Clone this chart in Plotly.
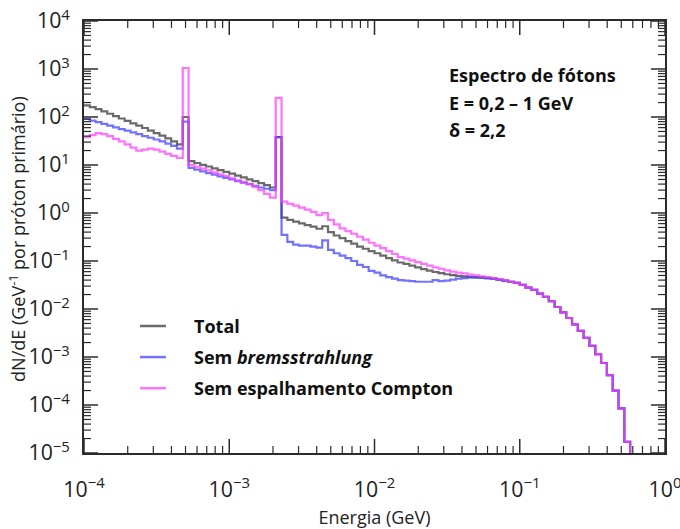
import numpy as np
import plotly.graph_objects as go

# Photon energy bins: 0.04-decade logarithmic bins from 1e-4 GeV
n_bins = 94
bin_edges = 10 ** (-4 + 0.04 * np.arange(n_bins + 1))

# dN/dE per bin (GeV^-1 per primary proton)
total = [
    175, 160, 146, 131, 117, 104, 93, 83, 74, 66, 59, 52, 46, 41, 36, 31, 27,
    100,
    12.0, 11.0, 10.1, 9.3, 8.5, 7.8, 7.2, 6.6, 6.0, 5.5, 5.0, 4.6, 4.2, 3.8, 3.4,
    38,
    0.80, 0.72, 0.66, 0.61, 0.56, 0.52, 0.47, 0.53, 0.40, 0.34,
    0.30, 0.26, 0.23, 0.20, 0.18, 0.16, 0.145, 0.13, 0.115, 0.103,
    0.093, 0.087, 0.080, 0.074, 0.068, 0.063, 0.059, 0.056, 0.053, 0.051,
    0.049, 0.048, 0.047, 0.046, 0.045, 0.044,
    0.043, 0.041, 0.039, 0.037, 0.035, 0.032, 0.028, 0.025, 0.021, 0.018,
    0.0145, 0.0110, 0.0085, 0.0065, 0.0048, 0.0035, 0.0025, 0.0017, 0.00115, 0.00075,
    0.00042, 0.00020, 0.000085, 0.000017,
]

sem_brems = [
    92, 84, 78, 72, 66, 61, 56, 52, 48, 44, 40, 37, 34, 31, 28, 25, 22,
    80,
    8.7, 8.0, 7.4, 6.8, 6.3, 5.8, 5.4, 5.0, 4.6, 4.3, 4.0, 3.7, 3.4, 3.2, 3.0,
    38,
    0.35, 0.25, 0.22, 0.21, 0.21, 0.20, 0.19, 0.27, 0.17, 0.145,
    0.13, 0.115, 0.10, 0.083, 0.075, 0.062, 0.057, 0.050, 0.046, 0.043,
    0.040, 0.039, 0.038, 0.037, 0.037, 0.037, 0.040, 0.038, 0.039, 0.041,
    0.043, 0.044, 0.045, 0.045, 0.045, 0.044,
    0.043, 0.041, 0.039, 0.037, 0.035, 0.032, 0.028, 0.025, 0.021, 0.018,
    0.0145, 0.0110, 0.0085, 0.0065, 0.0048, 0.0035, 0.0025, 0.0017, 0.00115, 0.00075,
    0.00042, 0.00020, 0.000085, 0.000017,
]

sem_compton = [
    38, 42, 46, 44, 40, 35, 31, 27, 23, 20, 21, 22, 21, 19, 17, 15.5, 14,
    1050,
    10.0, 9.2, 8.4, 7.7, 7.0, 6.4, 5.9, 5.3, 4.8, 4.4, 4.0, 3.5, 3.0, 2.5, 2.1,
    250,
    1.72, 1.55, 1.42, 1.30, 1.18, 1.06, 0.90, 0.99, 0.72, 0.58,
    0.48, 0.42, 0.37, 0.32, 0.28, 0.24, 0.21, 0.185, 0.16, 0.14,
    0.12, 0.112, 0.103, 0.095, 0.087, 0.080, 0.074, 0.069, 0.064, 0.060,
    0.057, 0.055, 0.052, 0.050, 0.048, 0.046,
    0.044, 0.042, 0.040, 0.037, 0.035, 0.032, 0.028, 0.025, 0.021, 0.018,
    0.0145, 0.0110, 0.0085, 0.0065, 0.0048, 0.0035, 0.0025, 0.0017, 0.00115, 0.00075,
    0.00042, 0.00020, 0.000085, 0.000017,
]

series_names = ["Total", "Sem <i>bremsstrahlung</i>", "Sem espalhamento Compton"]
series_colors = ["rgba(80,80,80,0.85)", "rgba(60,60,255,0.72)", "rgba(255,60,255,0.72)"]

info_lines = ["Espectro de fótons", "E = 0,2 – 1 GeV", "δ = 2,2"]
x_title = "Energia (GeV)"
y_title = "dN/dE (GeV<sup>-1</sup> por próton primário)"

# Decade labels 10^0 and 10^1 written in power form like the others
decade_alias = {"1": "10<sup>0</sup>", "10": "10<sup>1</sup>"}

X_DECADES = (-4, 0)
Y_DECADES = (-5, 4)

Y_FLOOR = 1e-6  # below the visible range, closes the last step down to the axis

FONT = "Open Sans"
FIG_W, FIG_H = 680, 529
MARGIN = dict(l=84, r=15, t=21, b=76)
PLOT_W = FIG_W - MARGIN["l"] - MARGIN["r"]
PLOT_H = FIG_H - MARGIN["t"] - MARGIN["b"]
MAJOR_LEN, MINOR_LEN = 14, 7
AXIS_COLOR = "#2b2b2b"


def step_xy(values):
    xs = list(bin_edges) + [bin_edges[-1]]
    ys = list(values) + [values[-1], Y_FLOOR]
    return xs, ys


def frame_ticks(fig, lo, hi, horizontal):
    """Inward major/minor log ticks on both sides of the plot frame."""
    span = hi - lo
    for d in range(lo, hi + 1):
        for m in range(1, 10):
            if d == hi and m > 1:
                break
            pos = (d + np.log10(m) - lo) / span
            length = MAJOR_LEN if m == 1 else MINOR_LEN
            width = 1.5 if m == 1 else 1.2
            line = dict(color=AXIS_COLOR, width=width)
            if horizontal:
                t = length / PLOT_H
                fig.add_shape(type="line", xref="paper", yref="paper",
                              x0=pos, x1=pos, y0=0, y1=t, line=line)
                fig.add_shape(type="line", xref="paper", yref="paper",
                              x0=pos, x1=pos, y0=1, y1=1 - t, line=line)
            else:
                t = length / PLOT_W
                fig.add_shape(type="line", xref="paper", yref="paper",
                              x0=0, x1=t, y0=pos, y1=pos, line=line)
                fig.add_shape(type="line", xref="paper", yref="paper",
                              x0=1, x1=1 - t, y0=pos, y1=pos, line=line)


fig = go.Figure()
for name, vals, col in zip(series_names, [total, sem_brems, sem_compton], series_colors):
    xs, ys = step_xy(vals)
    fig.add_trace(go.Scatter(
        x=xs, y=ys, mode="lines", name=name,
        line=dict(color=col, width=2.2, shape="hv"),
        showlegend=False,
    ))

frame_ticks(fig, *X_DECADES, horizontal=True)
frame_ticks(fig, *Y_DECADES, horizontal=False)

# Legend drawn as short line samples with labels
leg_y = [0.294, 0.222, 0.150]
for name, col, yy in zip(series_names, series_colors, leg_y):
    fig.add_shape(type="line", xref="paper", yref="paper",
                  x0=0.0964, x1=0.141, y0=yy, y1=yy,
                  line=dict(color=col, width=2.5))
    fig.add_annotation(xref="paper", yref="paper", x=0.186, y=yy,
                       xanchor="left", yanchor="middle", showarrow=False,
                       text="<b>" + name + "</b>",
                       font=dict(family=FONT, size=18, color="#111"))

info_y = [0.875, 0.810, 0.748]
for txt, yy in zip(info_lines, info_y):
    fig.add_annotation(xref="paper", yref="paper", x=0.625, y=yy,
                       xanchor="left", yanchor="middle", showarrow=False,
                       text="<b>" + txt + "</b>",
                       font=dict(family=FONT, size=18, color="#111"))

# Vertical y-axis title placed left of the tick labels
fig.add_annotation(xref="paper", yref="paper", x=-0.114, y=0.495,
                   xanchor="center", yanchor="middle", textangle=-90,
                   showarrow=False, text=y_title,
                   font=dict(family=FONT, size=18, color="#222"))

axis_common = dict(
    type="log", dtick=1, exponentformat="power", labelalias=decade_alias,
    showline=True, linecolor=AXIS_COLOR, linewidth=1.5, mirror=True,
    ticks="", ticklabeloverflow="allow",
    showgrid=False, zeroline=False, automargin=False,
    tickfont=dict(family=FONT, size=17, color="#222"),
)

fig.update_xaxes(range=list(X_DECADES), ticklabelstandoff=18,
                 title=dict(text=x_title, font=dict(family=FONT, size=18, color="#222"),
                            standoff=12),
                 **axis_common)
fig.update_yaxes(range=list(Y_DECADES), ticklabelstandoff=9, **axis_common)

fig.update_layout(
    width=FIG_W, height=FIG_H,
    margin=dict(MARGIN, autoexpand=False),
    paper_bgcolor="white", plot_bgcolor="white",
    font=dict(family=FONT),
)

fig.write_html("out.html")
